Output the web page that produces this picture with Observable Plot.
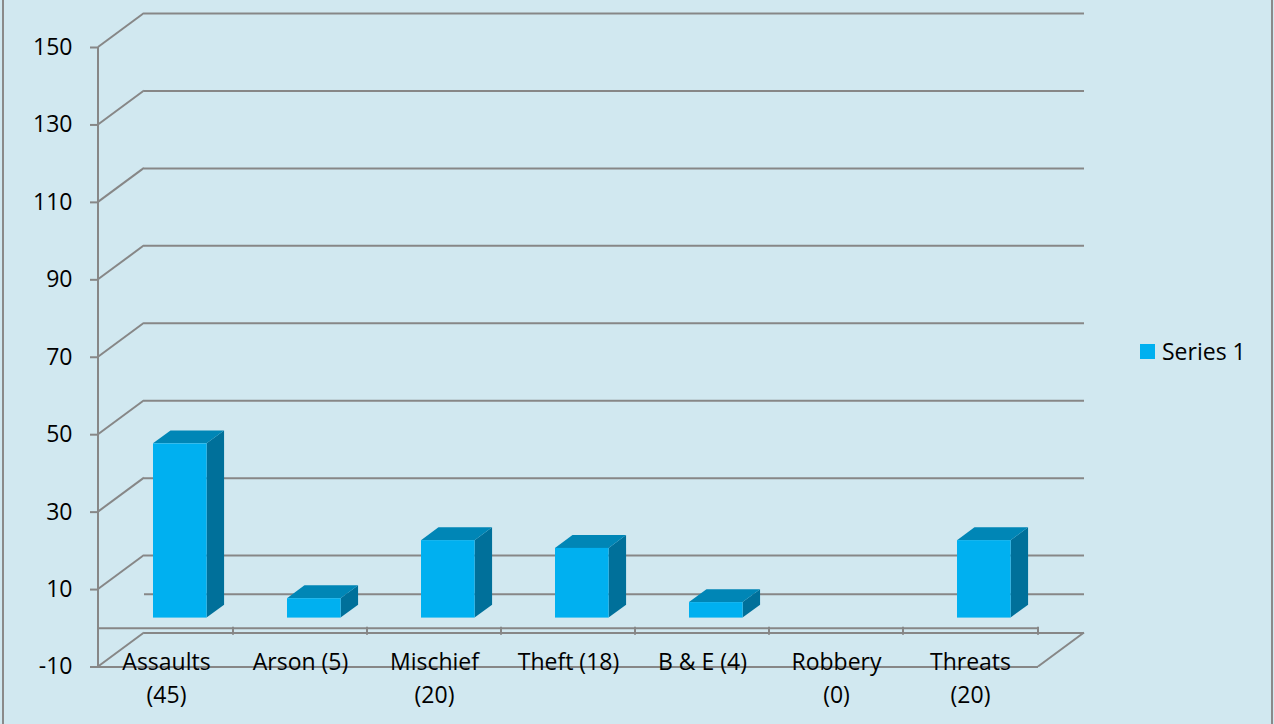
<!DOCTYPE html>
<html>
<head>
<meta charset="utf-8">
<script src="https://cdn.jsdelivr.net/npm/d3@7"></script>
<script src="https://cdn.jsdelivr.net/npm/@observablehq/plot@0.6"></script>
<style>
  html, body { margin: 0; padding: 0; background: #D1E8F0; }
  #chart { position: relative; width: 1274px; height: 724px; overflow: hidden; background: #D1E8F0; font-family: "Open Sans", sans-serif; }
  #chart svg { position: absolute; left: 0; top: 0; }
  #border { position: absolute; left: 2px; top: -10px; width: 1267px; height: 740px; border: 2px solid #8A8A8A; pointer-events: none; }
  #legend { position: absolute; left: 1140px; top: 336px; display: flex; align-items: center; font-size: 23px; color: #000; line-height: 30px; }
  #legend .swatch { width: 15px; height: 15px; background: #00B0F0; margin-right: 7px; }
</style>
</head>
<body>
<div id="chart">
  <div id="border"></div>
  <div id="legend"><span class="swatch"></span><span id="legend-label"></span></div>
</div>
<script>
// Incidents by type
const categories = ["Assaults\n(45)", "Arson (5)", "Mischief\n(20)", "Theft (18)", "B & E (4)", "Robbery\n(0)", "Threats\n(20)"];
const counts = [45, 5, 20, 18, 4, 0, 20];
const yTicks = [-10, 10, 30, 50, 70, 90, 110, 130, 150];
const seriesName = "Series 1";

const rows = categories.map((category, i) => ({category, value: counts[i]}));

// Pseudo-3D styling
const GRID = "#878787";
const DX = 46, DY = -34;          // how far the floor and walls recede
const NEAR = 0.30, FAR = 0.68;    // front and back of each column within that depth
const BAR = 0.40;                 // column width as a share of its band
const FRONT = "#00B0F0", TOP = "#0086B6", SIDE = "#00709A";
const FONT_SIZE = 23;

// Front axis line, diagonals from the front ticks to the back wall, right edge of the floor
function wallEdges(index, scales, values, dims) {
  const g = d3.create("svg:g").attr("fill", "none").attr("stroke", GRID).attr("stroke-width", 2);
  const left = dims.marginLeft, right = dims.width - dims.marginRight;
  const yLow = scales.y(d3.min(yTicks)), yHigh = scales.y(d3.max(yTicks));
  for (const i of index) {
    const y = values.y[i];
    g.append("line").attr("x1", left).attr("y1", y).attr("x2", left + DX).attr("y2", y + DY);
  }
  g.append("line").attr("x1", left).attr("y1", yLow).attr("x2", left).attr("y2", yHigh);
  g.append("line").attr("x1", right).attr("y1", yLow).attr("x2", right + DX).attr("y2", yLow + DY);
  return g.node();
}

// Tick marks between categories on the zero line
function categoryTicks(index, scales, values, dims) {
  const g = d3.create("svg:g").attr("stroke", GRID).attr("stroke-width", 2);
  const y = values.y[index[0]];
  const edges = categories.slice(1).map((c) => scales.x(c)).concat(dims.width - dims.marginRight);
  for (const x of edges) {
    g.append("line").attr("x1", x).attr("y1", y - 1).attr("x2", x).attr("y2", y + 7);
  }
  return g.node();
}

// Columns drawn as boxes: side, top and front faces
function columns3d(index, scales, values, dims) {
  const g = d3.create("svg:g");
  const bw = scales.x.bandwidth
    ? (typeof scales.x.bandwidth === "function" ? scales.x.bandwidth() : scales.x.bandwidth)
    : (dims.width - dims.marginLeft - dims.marginRight) / categories.length;
  const w = bw * BAR;
  const ddx = (FAR - NEAR) * DX, ddy = (FAR - NEAR) * DY;
  for (const i of index) {
    const d = rows[i];
    if (!d.value) continue;
    const cx = scales.x(d.category) + bw / 2 + NEAR * DX;
    const x0 = cx - w / 2, x1 = cx + w / 2;
    const yt = scales.y(d.value) + NEAR * DY;
    const yb = scales.y(0) + NEAR * DY;
    const pts = (p) => p.map((q) => q.join(",")).join(" ");
    g.append("polygon").attr("fill", SIDE)
      .attr("points", pts([[x1, yt], [x1 + ddx, yt + ddy], [x1 + ddx, yb + ddy], [x1, yb]]));
    g.append("polygon").attr("fill", TOP)
      .attr("points", pts([[x0, yt], [x0 + ddx, yt + ddy], [x1 + ddx, yt + ddy], [x1, yt]]));
    g.append("rect").attr("fill", FRONT)
      .attr("x", x0).attr("y", yt).attr("width", w).attr("height", yb - yt);
  }
  return g.node();
}

const chart = Plot.plot({
  width: 1274,
  height: 724,
  marginLeft: 98,
  marginRight: 236,
  marginTop: 47,
  marginBottom: 57.5,
  style: {background: "transparent", fontFamily: "'Open Sans', sans-serif", fontSize: `${FONT_SIZE}px`, color: "#000"},
  x: {type: "band", domain: categories, padding: 0, axis: null},
  y: {domain: [-10, 150], axis: null},
  marks: [
    // back wall gridlines, the floor's back edge and the back zero line
    Plot.ruleY([...yTicks, 0], {dx: DX, dy: DY, stroke: GRID, strokeWidth: 2}),
    Plot.ruleY(yTicks, {render: wallEdges}),
    // floor front edge and the category axis at zero
    Plot.ruleY([-10, 0], {stroke: GRID, strokeWidth: 2}),
    Plot.ruleY([0], {render: categoryTicks}),
    Plot.axisY({
      ticks: yTicks, tickSize: 8, tickPadding: 18, tickFormat: (d) => String(d), label: null,
      stroke: GRID, strokeWidth: 2, fill: "#000", fontSize: FONT_SIZE
    }),
    Plot.rectY(rows, {x: "category", y: "value", render: columns3d}),
    Plot.text(rows, {
      x: "category", text: "category", frameAnchor: "bottom", lineAnchor: "top",
      dy: -20, lineHeight: 1.43, fontSize: FONT_SIZE, fill: "#000"
    })
  ]
});

document.getElementById("chart").prepend(chart);
document.getElementById("legend-label").textContent = seriesName;
</script>
</body>
</html>
